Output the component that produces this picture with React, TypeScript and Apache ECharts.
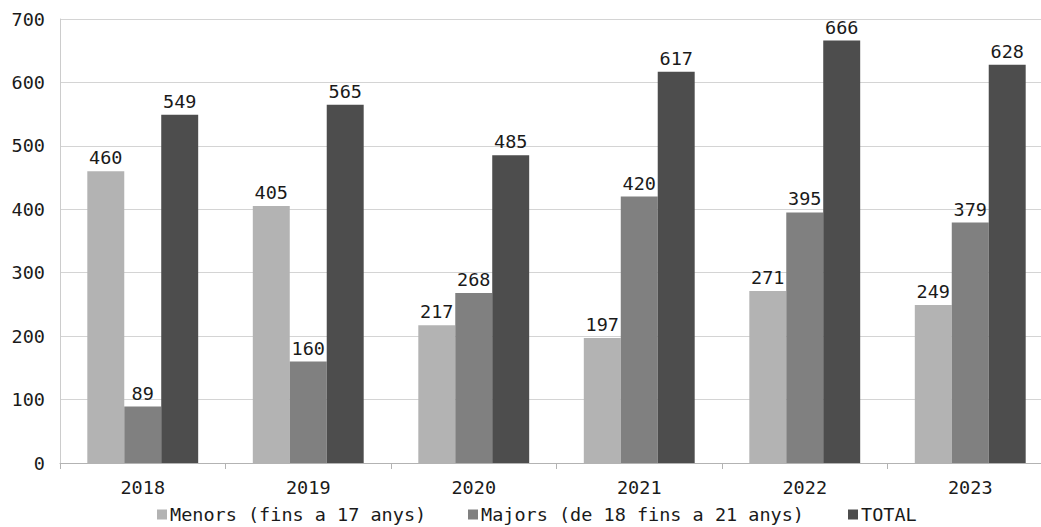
import React, { useEffect, useRef } from "react";
import * as echarts from "echarts";

const categories = ["2018", "2019", "2020", "2021", "2022", "2023"];
const menors = [460, 405, 217, 197, 271, 249];
const majors = [89, 160, 268, 420, 395, 379];
const total = [549, 565, 485, 617, 666, 628];
const seriesNames = ["Menors (fins a 17 anys)", "Majors (de 18 fins a 21 anys)", "TOTAL"];
const colors = ["#b3b3b3", "#808080", "#4d4d4d"];
const legendLefts = [157, 468, 848];

const FONT = "'DejaVu Sans Mono', 'Liberation Mono', monospace";
const FS = 18.5;

export default function App() {
  const ref = useRef<HTMLDivElement>(null);
  useEffect(() => {
    document.body.style.margin = "0";
    const chart = echarts.init(ref.current!, null, { renderer: "svg" });
    const mk = (name: string, data: number[], color: string) => ({
      name,
      type: "bar",
      data,
      barGap: "0%",
      barCategoryGap: "33%",
      itemStyle: { color },
      label: {
        show: true,
        position: "top",
        distance: 4,
        color: "#1a1a1a",
        fontFamily: FONT,
        fontSize: FS,
      },
    });
    chart.setOption({
      animation: false,
      textStyle: { fontFamily: FONT },
      grid: {
        left: 60,
        width: 993,
        top: 19,
        height: 444,
        containLabel: false,
        outerBoundsMode: "none",
      },
      legend: seriesNames.map((n, i) => ({
        bottom: -2,
        left: legendLefts[i] - 5,
        itemWidth: 10,
        itemHeight: 10,
        icon: "rect",
        textStyle: { fontFamily: FONT, fontSize: FS, color: "#1a1a1a", padding: [0, 0, 0, -2] },
        data: [n],
      })),
      xAxis: {
        type: "category",
        data: categories,
        axisLine: { lineStyle: { color: "#b3b3b3" } },
        axisTick: { show: true, length: 6, lineStyle: { color: "#b3b3b3" } },
        axisLabel: { fontFamily: FONT, fontSize: FS, color: "#1a1a1a", margin: 15 },
      },
      yAxis: {
        type: "value",
        min: 0,
        max: 700,
        interval: 100,
        axisLine: { show: true, lineStyle: { color: "#cccccc" } },
        axisTick: { show: false },
        splitLine: { lineStyle: { color: "#d4d4d4" } },
        axisLabel: { fontFamily: FONT, fontSize: FS, color: "#1a1a1a", margin: 15 },
      },
      series: [
        mk(seriesNames[0], menors, colors[0]),
        mk(seriesNames[1], majors, colors[1]),
        mk(seriesNames[2], total, colors[2]),
      ],
    });
    return () => chart.dispose();
  }, []);
  return <div ref={ref} style={{ width: 1041, height: 527 }} />;
}
